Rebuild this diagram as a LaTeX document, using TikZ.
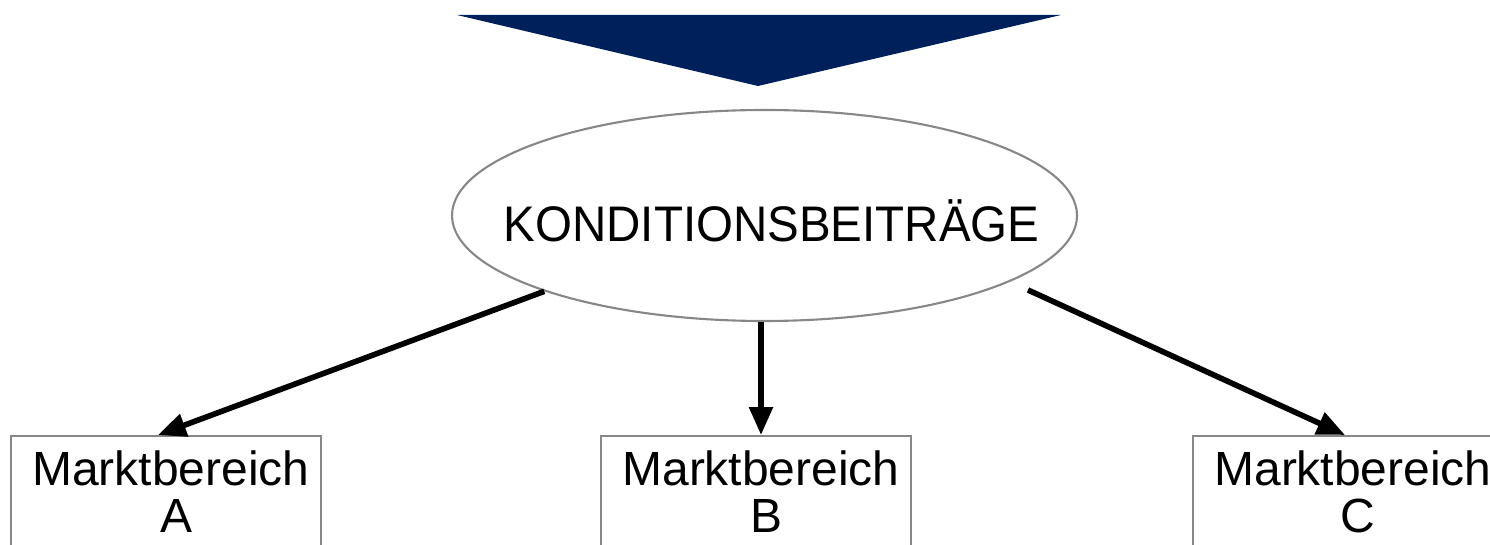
\documentclass[tikz,border=0pt]{standalone}
\usepackage{fontspec}
\setmainfont{Liberation Sans}
\usetikzlibrary{shapes.geometric,arrows.meta}
\definecolor{navy}{HTML}{00205B}
\definecolor{rim}{HTML}{878787}

\begin{document}
\begin{tikzpicture}[
    condition/.style={ellipse, draw=rim, line width=1.2pt, minimum width=12.5cm, minimum height=4.22cm, inner sep=0pt},
    market/.style={rectangle, draw=rim, line width=1.2pt, fill=white, minimum width=6.2cm, inner xsep=0pt, inner ysep=0.3cm, anchor=north, align=center, text depth=2cm, font=\fontsize{27.3}{26.7}\selectfont},
    link/.style={-{Triangle[length=5.6mm,width=4.6mm]}, line width=3.2pt}
]
    \useasboundingbox (0,0) rectangle (29.8,10.88);
    \clip (0,0) rectangle (29.8,10.88);

    % big arrow coming in from above
    \fill[navy] (9.14,10.58) -- (21.22,10.58) -- (15.16,9.16) -- cycle;

    \node[condition] (kb) at (15.29,6.57) {};
    \node[anchor=base, font=\fontsize{28.45}{30}\selectfont] (kbtext) at ([xshift=0.14cm, yshift=-0.53cm]kb.center) {\scalebox{0.95}[1]{KONDITIONSBEITRÄGE}};

    \node[market] (ma) at (3.32,2.18) {\hspace*{0.2cm}Marktbereich\\\hspace*{0.4cm}A};
    \node[market] (mb) at (15.12,2.18) {\hspace*{0.2cm}Marktbereich\\\hspace*{0.4cm}B};
    \node[market] (mc) at (26.96,2.18) {\hspace*{0.2cm}Marktbereich\\\hspace*{0.4cm}C};

    \draw[link] (kb.199) -- ([xshift=-0.16cm]ma.north);
    \draw[link] ([xshift=-0.07cm]kb.south) -- ([xshift=0.1cm]mb.north);
    \draw[link] ([shift={(5.27,-1.49)}]kb.center) -- ([xshift=-0.06cm]mc.north);
\end{tikzpicture}
\end{document}
